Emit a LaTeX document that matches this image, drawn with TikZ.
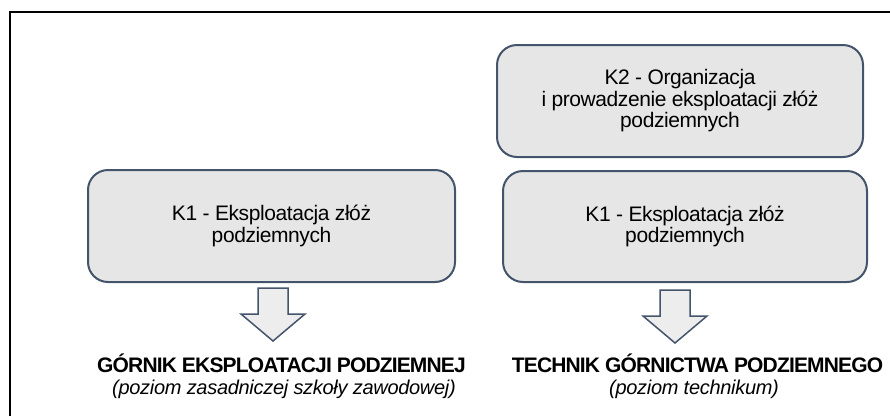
\documentclass[tikz,border=0pt]{standalone}
\usepackage{fontspec}
\setmainfont{Liberation Sans}[LetterSpace=-2, BoldFeatures={LetterSpace=-4}, ItalicFeatures={LetterSpace=-1.5}]
\usetikzlibrary{positioning}
\definecolor{boxfill}{HTML}{E6E6E6}
\definecolor{boxline}{HTML}{44546A}
\definecolor{arrowfill}{HTML}{EDEDED}
\tikzset{
    kbox/.style={draw=boxline, line width=2pt, fill=boxfill, rounded corners=20pt,
        align=center, inner sep=0pt, font=\fontsize{21}{21.5}\selectfont},
    blockarrow/.style={draw=boxline, line width=1.5pt, fill=arrowfill, line join=miter},
    title/.style={inner sep=0pt, anchor=base, font=\fontsize{21}{23}\selectfont\bfseries},
    level/.style={inner sep=0pt, anchor=base, font=\fontsize{20}{23}\selectfont\itshape}
}
\begin{document}
\begin{tikzpicture}[x=1pt,y=-1pt]
    \useasboundingbox (0,0) rectangle (890,416);
    % frame
    \draw[line width=2pt] (10,416) -- (10,12) -- (890,12);
    % boxes
    \node[kbox, minimum width=367pt, minimum height=112pt] (k1left) at (271.5,226) {K1 - Eksploatacja złóż\\podziemnych};
    \node[kbox, minimum width=366pt, minimum height=112pt] (k2right) at (680,101) {K2 - Organizacja\\i prowadzenie eksploatacji złóż\\podziemnych};
    \node[kbox, minimum width=364pt, minimum height=111pt] (k1right) at (685,226.5) {K1 - Eksploatacja złóż\\podziemnych};
    % block arrows
    \coordinate (arrleft) at (273,288);
    \coordinate (arrright) at (675,290);
    \foreach \a in {arrleft,arrright}
        \draw[blockarrow, shift={(\a)}] (-15,0) -- (15,0) -- (15,26) -- (32,26) -- (0,53) -- (-32,26) -- (-15,26) -- cycle;
    % occupations
    \node[title] (gornik) at (281.5,372) {GÓRNIK EKSPLOATACJI PODZIEMNEJ};
    \node[level] (gornikpoz) at (284,394) {(poziom zasadniczej szkoły zawodowej)};
    \node[title] (technik) at (697.5,372) {TECHNIK GÓRNICTWA PODZIEMNEGO};
    \node[level] (technikpoz) at (694,394) {(poziom technikum)};
\end{tikzpicture}
\end{document}
